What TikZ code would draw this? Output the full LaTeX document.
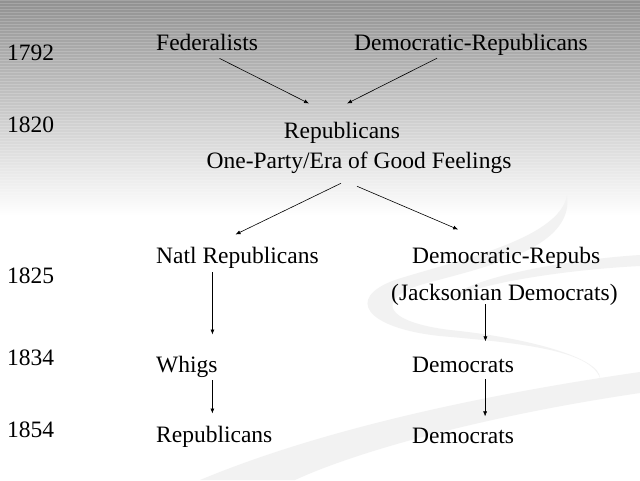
\documentclass[tikz,border=0pt]{standalone}
\usepackage{fontspec}
\setmainfont{Liberation Serif}
\usetikzlibrary{calc,arrows.meta}
\begin{document}
\begin{tikzpicture}[x=1pt,y=-1pt,
  lbl/.style={inner sep=0pt,font=\fontsize{23.5}{28}\selectfont,text=black},
  arr/.style={draw=black,line width=0.6pt,-{Latex[length=5pt,width=4pt]}},
  swoosh/.style={fill=black!5,draw=none}]
\useasboundingbox (0,0) rectangle (640,480);
% background
\fill[white] (0,0) rectangle (640,480);
\shade[top color=black!43,bottom color=white] (0,0) rectangle (640,215);
\foreach \yy in {0,3,...,195} \draw[white,opacity=0.18,line width=1pt] (0,\yy) -- (640,\yy);
\fill[swoosh] (567,195) .. controls (560,240) and (450,262) .. (395,280)
  .. controls (345,298) and (365,328) .. (440,336)
  .. controls (520,343) and (590,350) .. (600,378)
  .. controls (600,358) and (530,338) .. (450,330)
  .. controls (385,322) and (375,300) .. (420,285)
  .. controls (480,268) and (575,250) .. (567,195) -- cycle;
\fill[swoosh] (640,255) .. controls (560,260) and (460,280) .. (450,300)
  .. controls (470,285) and (560,270) .. (640,266) -- cycle;
\fill[swoosh] (200,480) .. controls (320,430) and (480,395) .. (640,372)
  -- (640,393) .. controls (490,415) and (360,450) .. (295,480) -- cycle;
% years
\node[lbl,anchor=base west] (y1792) at (7,60) {1792};
\node[lbl,anchor=base west] (y1820) at (7,132) {1820};
\node[lbl,anchor=base west] (y1825) at (7,283) {1825};
\node[lbl,anchor=base west] (y1834) at (7,365) {1834};
\node[lbl,anchor=base west] (y1854) at (7,437) {1854};
% parties
\node[lbl,anchor=base west] (fed) at (156,50) {Federalists};
\node[lbl,anchor=base west] (dr) at (354,50) {Democratic-Republicans};
\node[lbl,anchor=base] (rep) at (342,138) {Republicans};
\node[lbl,anchor=base] (one) at (359,168) {One-Party/Era of Good Feelings};
\node[lbl,anchor=base west] (natl) at (156,263) {Natl Republicans};
\node[lbl,anchor=base west] (drp) at (412,263) {Democratic-Repubs};
\node[lbl,anchor=base west] (jack) at (391,300) {(Jacksonian Democrats)};
\node[lbl,anchor=base west] (whigs) at (156,372) {Whigs};
\node[lbl,anchor=base west] (dem1) at (412,372) {Democrats};
\node[lbl,anchor=base west] (rep2) at (156,442) {Republicans};
\node[lbl,anchor=base west] (dem2) at (412,443) {Democrats};
% connectors
\draw[arr] ($(fed.south)+(12.5,8)$) -- ($(rep.north)+(-33,-18)$);
\draw[arr] ($(dr.south)+(-34,3)$) -- ($(rep.north)+(5,-18)$);
\draw[arr] ($(one.south)+(-18,10)$) -- ($(natl.north)+(-2,-12)$);
\draw[arr] ($(one.south)+(-2,13)$) -- ($(drp.north)+(-48,-17)$);
\draw[arr] ($(natl.south)+(-25,4)$) coordinate (s5) -- ($(s5 |- whigs.north)+(0,-21)$);
\draw[arr] ($(jack.south)+(-19,-1)$) coordinate (s6) -- ($(s6 |- dem1.north)+(0,-15)$);
\draw[arr] ($(whigs.south)+(25.5,3)$) coordinate (s7) -- ($(s7 |- rep2.north)+(0,-12)$);
\draw[arr] ($(dem1.south)+(22,7)$) coordinate (s8) -- ($(s8 |- dem2.north)+(0,-11)$);
\end{tikzpicture}
\end{document}
